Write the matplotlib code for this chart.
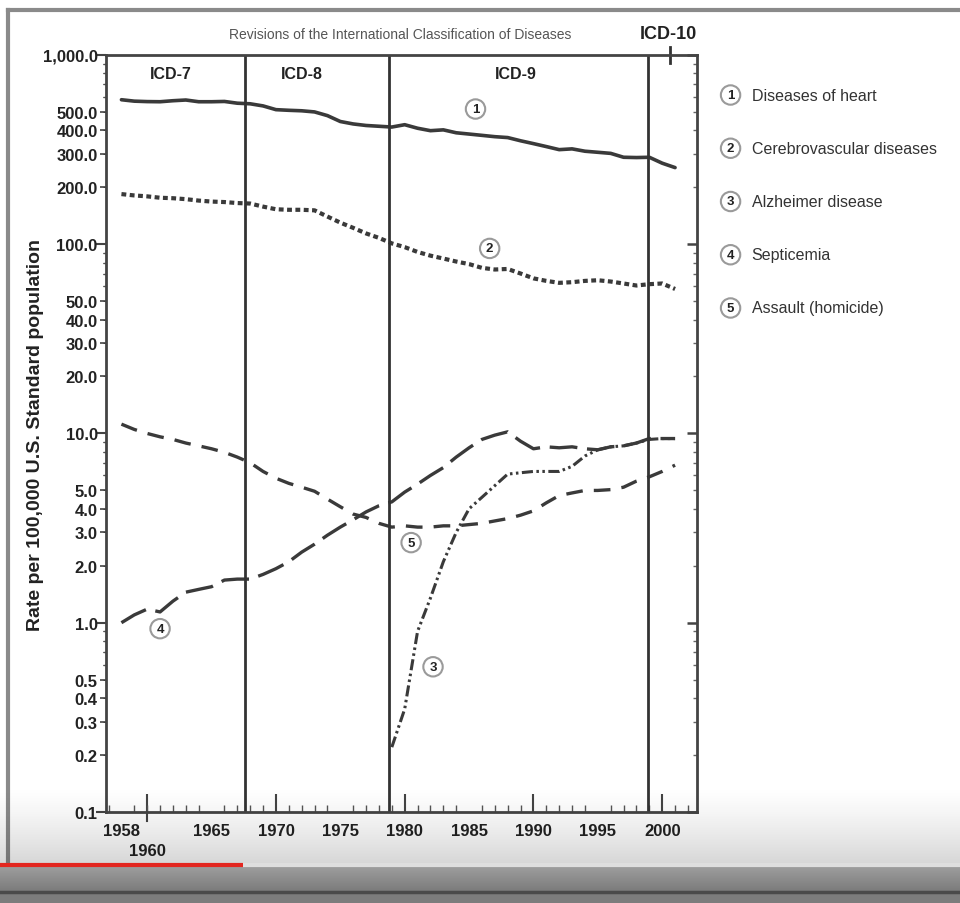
import numpy as np
import matplotlib.pyplot as plt
from matplotlib.ticker import LogLocator, NullFormatter

plt.rcParams['font.family'] = ['Liberation Sans', 'DejaVu Sans']
plt.rcParams['lines.scale_dashes'] = False

# Age-adjusted death rates per 100,000, by year
years = list(range(1958, 2002))
heart = [580, 570, 567, 566, 573, 578, 566, 566, 568, 556, 552, 538, 514, 510,
         507, 500, 478, 445, 432, 424, 420, 416, 428, 410, 398, 402, 388, 382,
         376, 370, 366, 352, 340, 328, 316, 319, 310, 306, 302, 288, 287, 288,
         268, 254]
stroke = [184, 181, 179, 176, 175, 173, 170, 168, 167, 165, 164, 158, 153, 152,
          152, 151, 140, 130, 122, 114, 108, 101, 96.5, 91, 87, 84, 81, 78.5,
          75, 73.5, 74, 70, 66, 64, 62.5, 63, 64, 64.5, 63.5, 62, 60.5, 61.5,
          62, 58]
septicemia = [1.0, 1.1, 1.18, 1.14, 1.3, 1.45, 1.5, 1.55, 1.68, 1.7, 1.7, 1.8,
              1.93, 2.1, 2.36, 2.6, 2.9, 3.2, 3.5, 3.85, 4.15, 4.35, 4.9, 5.4,
              6.0, 6.6, 7.5, 8.4, 9.3, 9.8, 10.2, 9.1, 8.3, 8.5, 8.4, 8.5, 8.3,
              8.2, 8.5, 8.6, 8.9, 9.4, 9.4, 9.4]
assault = [11.2, 10.5, 10.0, 9.6, 9.3, 8.9, 8.6, 8.3, 7.95, 7.5, 7.0, 6.3, 5.8,
           5.45, 5.2, 4.95, 4.5, 4.1, 3.75, 3.6, 3.35, 3.2, 3.25, 3.2, 3.2,
           3.25, 3.25, 3.3, 3.35, 3.45, 3.55, 3.7, 3.9, 4.3, 4.7, 4.85, 5.0,
           5.0, 5.05, 5.2, 5.6, 5.9, 6.3, 6.8]
alz_years = list(range(1979, 2002))
alzheimer = [0.22, 0.35, 0.9, 1.35, 2.1, 3.0, 4.0, 4.6, 5.3, 6.1, 6.2, 6.3, 6.3,
             6.3, 6.7, 7.6, 8.2, 8.5, 8.6, 8.9, 9.3, 9.4, 9.4]

causes = ['Diseases of heart', 'Cerebrovascular diseases', 'Alzheimer disease',
          'Septicemia', 'Assault (homicide)']

# ICD revision boundaries and section labels
icd_breaks = [1967.6, 1978.8, 1998.9]
icd_names = ['ICD-7', 'ICD-8', 'ICD-9']
icd_label_x = [1961.8, 1972.0, 1988.6]

ytick_values = [0.1, 0.2, 0.3, 0.4, 0.5, 1, 2, 3, 4, 5, 10, 20, 30, 40, 50,
                100, 200, 300, 400, 500, 1000]
decades = [0.1, 1, 10, 100, 1000]
xlabel_years = [1958, 1965, 1970, 1975, 1980, 1985, 1990, 1995, 2000]
decade_years = [1960, 1970, 1980, 1990, 2000]

# where the circled series numbers sit on the plot
tag_x = [1985.5, 1986.6, 1982.2, 1961.0, 1980.5]
tag_y = [518, 95, 0.585, 0.93, 2.65]

ink = '#3a3a3a'
text_c = '#222222'

fig = plt.figure(figsize=(9.6, 9.04), dpi=100)
fig.patch.set_facecolor('white')
ax = fig.add_axes([0.1104, 0.1007, 0.6156, 0.8374])
ax.set_yscale('log')
ax.set_xlim(1956.8, 2002.7)
ax.set_ylim(0.1, 1000)

ax.plot(years, heart, color=ink, lw=2.6, solid_capstyle='round')
ax.plot(years, stroke, color=ink, lw=3.0, dashes=(3.5, 2.5))
ax.plot(alz_years, alzheimer, color=ink, lw=2.2,
        dashes=(8, 2.5, 1.8, 2.5, 1.8, 2.5))
ax.plot(years, septicemia, color=ink, lw=2.4, dashes=(20, 7))
ax.plot(years, assault, color=ink, lw=2.4, dashes=(12, 8))

for xb in icd_breaks:
    ax.axvline(xb, color='#333333', lw=2)
for name, xl in zip(icd_names, icd_label_x):
    ax.text(xl, 0.976, name, transform=ax.get_xaxis_transform(), ha='center',
            va='center', fontsize=11.5, fontweight='bold', color=text_c)

for sp in ax.spines.values():
    sp.set_color('#444444')
    sp.set_linewidth(2)

# y axis: labelled ticks on the left, inward ticks on the right
ax.set_yticks(ytick_values, [f'{v:,.1f}' for v in ytick_values])
ax.yaxis.set_minor_locator(LogLocator(base=10, subs=(6, 7, 8, 9), numticks=20))
ax.yaxis.set_minor_formatter(NullFormatter())
ax.tick_params(axis='y', which='major', direction='out', length=4, width=1.2,
               pad=2, labelsize=12, labelcolor=text_c, color='#444444')
ax.tick_params(axis='y', which='minor', direction='out', length=2.5, width=1,
               color='#555555')
sec_l = ax.secondary_yaxis('left')
sec_l.set_yticks(decades, [''] * len(decades))
sec_l.tick_params(direction='out', length=7, width=1.5, color='#444444')
sec_l.spines['left'].set_visible(False)
sec_r = ax.secondary_yaxis('right')
sec_r.set_yticks(decades, [''] * len(decades))
sec_r.yaxis.set_minor_locator(LogLocator(base=10, subs=np.arange(2, 10), numticks=20))
sec_r.yaxis.set_minor_formatter(NullFormatter())
sec_r.tick_params(which='major', direction='in', length=7, width=1.8, color='#444444')
sec_r.tick_params(which='minor', direction='in', length=3, width=1, color='#666666')
sec_r.spines['right'].set_visible(False)

# x axis: yearly minor ticks, long inward ticks at each decade
ax.set_xticks(xlabel_years, [str(y) for y in xlabel_years])
ax.set_xticks(range(1957, 2003), minor=True)
ax.tick_params(axis='x', which='major', length=0, pad=8, labelsize=12,
               labelcolor=text_c)
ax.tick_params(axis='x', which='minor', direction='in', length=5, width=1,
               color='#555555')
sec_b = ax.secondary_xaxis('bottom')
sec_b.set_xticks(decade_years, [''] * len(decade_years))
sec_b.tick_params(direction='in', length=13, width=1.5, color='#444444')
sec_b.spines['bottom'].set_visible(False)
ax.plot([1960, 1960], [-0.012, 0], transform=ax.get_xaxis_transform(),
        clip_on=False, color='#444444', lw=1.5)
ax.text(1960, -0.0515, '1960', transform=ax.get_xaxis_transform(),
        ha='center', va='center', fontsize=12, fontweight='bold', color=text_c)
for lab in ax.get_xticklabels() + ax.get_yticklabels():
    lab.set_fontweight('bold')

# ICD-10 marker above the frame
ax.plot([2000.6, 2000.6], [0.99, 1.011], transform=ax.get_xaxis_transform(),
        clip_on=False, color='#333333', lw=2)
fig.text(0.696, 0.9613, 'ICD-10', ha='center', va='center', fontsize=13,
         fontweight='bold', color=text_c)
fig.text(0.4167, 0.9613,
         'Revisions of the International Classification of Diseases',
         ha='center', va='center', fontsize=10, color='#555555')
fig.text(0.0365, 0.519, 'Rate per 100,000 U.S. Standard population',
         rotation=90, ha='center', va='center', fontsize=14,
         fontweight='bold', color=text_c)

circle = dict(boxstyle='circle,pad=0.28', fc='white', ec='#9a9a9a', lw=1.5)
for i, (tx, ty) in enumerate(zip(tag_x, tag_y)):
    ax.text(tx, ty, str(i + 1), ha='center', va='center', fontsize=9.5,
            fontweight='bold', color=text_c, bbox=circle)

# key on the right
for i, name in enumerate(causes):
    yk = 0.8938 - i * 0.0589
    fig.text(0.761, yk, str(i + 1), ha='center', va='center', fontsize=9.5,
             fontweight='bold', color=text_c, bbox=circle)
    fig.text(0.783, yk, name, ha='left', va='center', fontsize=11.5,
             color='#333333')

# outer frame
fig.add_artist(plt.Line2D([0.0083, 0.0083], [0.012, 0.988], color='#8a8a8a', lw=3))
fig.add_artist(plt.Line2D([0.0083, 1.0], [0.988, 0.988], color='#8a8a8a', lw=3))

# grey band with a progress bar along the bottom
shade = fig.add_axes([0, 0, 1, 0.13], zorder=10)
shade.set_axis_off()
t = np.linspace(0, 1, 256)[:, None]
rgba = np.zeros((256, 1, 4))
rgba[..., 3] = 0.17 * t ** 1.3
shade.imshow(rgba, aspect='auto', extent=(0, 1, 0.31, 1), origin='upper')
g = np.linspace(0.62, 0.48, 64)[:, None]
shade.imshow(np.dstack([g, g, g]), aspect='auto', extent=(0, 1, 0.09, 0.31),
             origin='upper')
shade.set_xlim(0, 1)
shade.set_ylim(0, 1)
shade.plot([0.253, 1.0], [0.32, 0.32], color='#dedede', lw=3,
           solid_capstyle='butt')
shade.plot([0, 0.253], [0.32, 0.32], color='#e3261f', lw=3,
           solid_capstyle='butt')
shade.add_patch(plt.Rectangle((0, 0), 1, 0.085, color='#7c7c7c'))
shade.plot([0, 1], [0.09, 0.09], color='#4a4a4a', lw=2.5)

fig.savefig('out.png', dpi=100)
